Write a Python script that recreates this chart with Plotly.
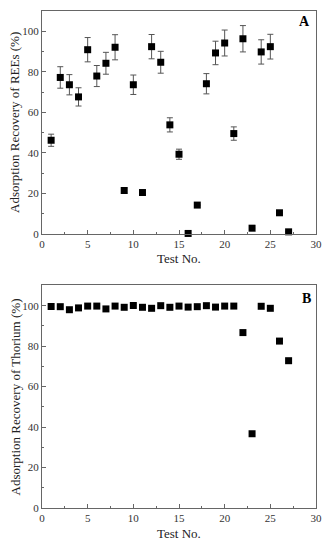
import plotly.graph_objects as go
from plotly.subplots import make_subplots

test_no = list(range(1, 28))
ree_recovery = [46.2, 77.2, 73.6, 67.6, 90.9, 77.9, 84.2, 92.1, 21.4, 73.6,
                20.4, 92.4, 84.7, 53.8, 39.3, 0.2, 14.2, 74.1, 89.3, 94.2,
                49.5, 96.3, 2.8, 89.8, 92.4, 10.4, 1.0]
ree_error = [3.0, 5.3, 5.0, 4.5, 6.0, 5.2, 5.4, 6.2, 1.2, 4.8,
             1.1, 6.0, 5.4, 3.5, 2.5, 0.0, 0.0, 5.0, 5.8, 6.4,
             3.3, 6.5, 0.0, 6.0, 6.1, 0.0, 0.0]
th_recovery = [99.6, 99.5, 98.0, 98.9, 99.8, 99.8, 98.4, 99.8, 99.2, 100.1,
               99.2, 98.7, 100.0, 99.2, 99.8, 99.3, 99.5, 100.0, 99.3, 99.8,
               99.8, 86.7, 36.7, 99.7, 98.7, 82.5, 72.8]

x_ticks = [0, 5, 10, 15, 20, 25, 30]
y_ticks = [0, 20, 40, 60, 80, 100]

FONT = "Liberation Serif, Times New Roman, serif"

fig = make_subplots(rows=2, cols=1, vertical_spacing=0.0)

fig.add_trace(go.Scatter(
    x=test_no, y=ree_recovery, mode="markers",
    marker=dict(symbol="square", size=7, color="black"),
    error_y=dict(type="data", array=ree_error, visible=True,
                 color="#555555", thickness=1, width=3),
    showlegend=False, cliponaxis=False), row=1, col=1)

fig.add_trace(go.Scatter(
    x=test_no, y=th_recovery, mode="markers",
    marker=dict(symbol="square", size=7, color="black"),
    showlegend=False, cliponaxis=False), row=2, col=1)

axis_common = dict(showline=True, linecolor="#666666", linewidth=1, mirror=True,
                   ticks="inside", ticklen=4, tickwidth=1, tickcolor="#666666",
                   showgrid=False, zeroline=False,
                   tickfont=dict(family=FONT, size=11, color="#333333"))

for r in (1, 2):
    fig.update_xaxes(range=[0, 30], tickvals=x_ticks,
                     minor=dict(ticks="inside", ticklen=2, dtick=2.5, tick0=0,
                                tickcolor="#666666"),
                     row=r, col=1, **axis_common)
    fig.update_yaxes(range=[0, 110], tickvals=y_ticks,
                     minor=dict(ticks="inside", ticklen=2, dtick=10, tick0=0,
                                tickcolor="#666666"),
                     row=r, col=1, **axis_common)

fig.update_layout(
    width=332, height=550,
    margin=dict(l=42, r=14, t=10, b=42),
    plot_bgcolor="white", paper_bgcolor="white",
    font=dict(family=FONT),
    xaxis=dict(domain=[0, 1]),
    yaxis=dict(domain=[0.5516, 1.0]),
    xaxis2=dict(domain=[0, 1]),
    yaxis2=dict(domain=[0.0, 0.4478]),
)

annots = [
    dict(text="Adsorption Recovery of REEs (%)", x=15, y=122, textangle=-90, size=13),
    dict(text="Adsorption Recovery of Thorium (%)", x=15, y=397, textangle=-90, size=13),
    dict(text="Test No.", x=180, y=258, textangle=0, size=13),
    dict(text="Test No.", x=180, y=534, textangle=0, size=13),
]
for a in annots:
    fig.add_annotation(text=a["text"], xref="paper", yref="paper",
                       x=(a["x"] - 42) / 276, y=1 - (a["y"] - 10) / 498,
                       xanchor="center", yanchor="middle", textangle=a["textangle"],
                       showarrow=False,
                       font=dict(family=FONT, size=a["size"], color="#222222"))

fig.add_annotation(text="<b>A</b>", xref="paper", yref="paper",
                   x=(306 - 42) / 276, y=1 - (21 - 10) / 498,
                   xanchor="center", yanchor="middle", showarrow=False,
                   font=dict(family=FONT, size=14, color="black"))
fig.add_annotation(text="<b>B</b>", xref="paper", yref="paper",
                   x=(308 - 42) / 276, y=1 - (298 - 10) / 498,
                   xanchor="center", yanchor="middle", showarrow=False,
                   font=dict(family=FONT, size=14, color="black"))

fig.write_html("out.html",
               config={"displayModeBar": False},
               post_script="document.body.style.margin='0';document.body.style.overflow='hidden';")
